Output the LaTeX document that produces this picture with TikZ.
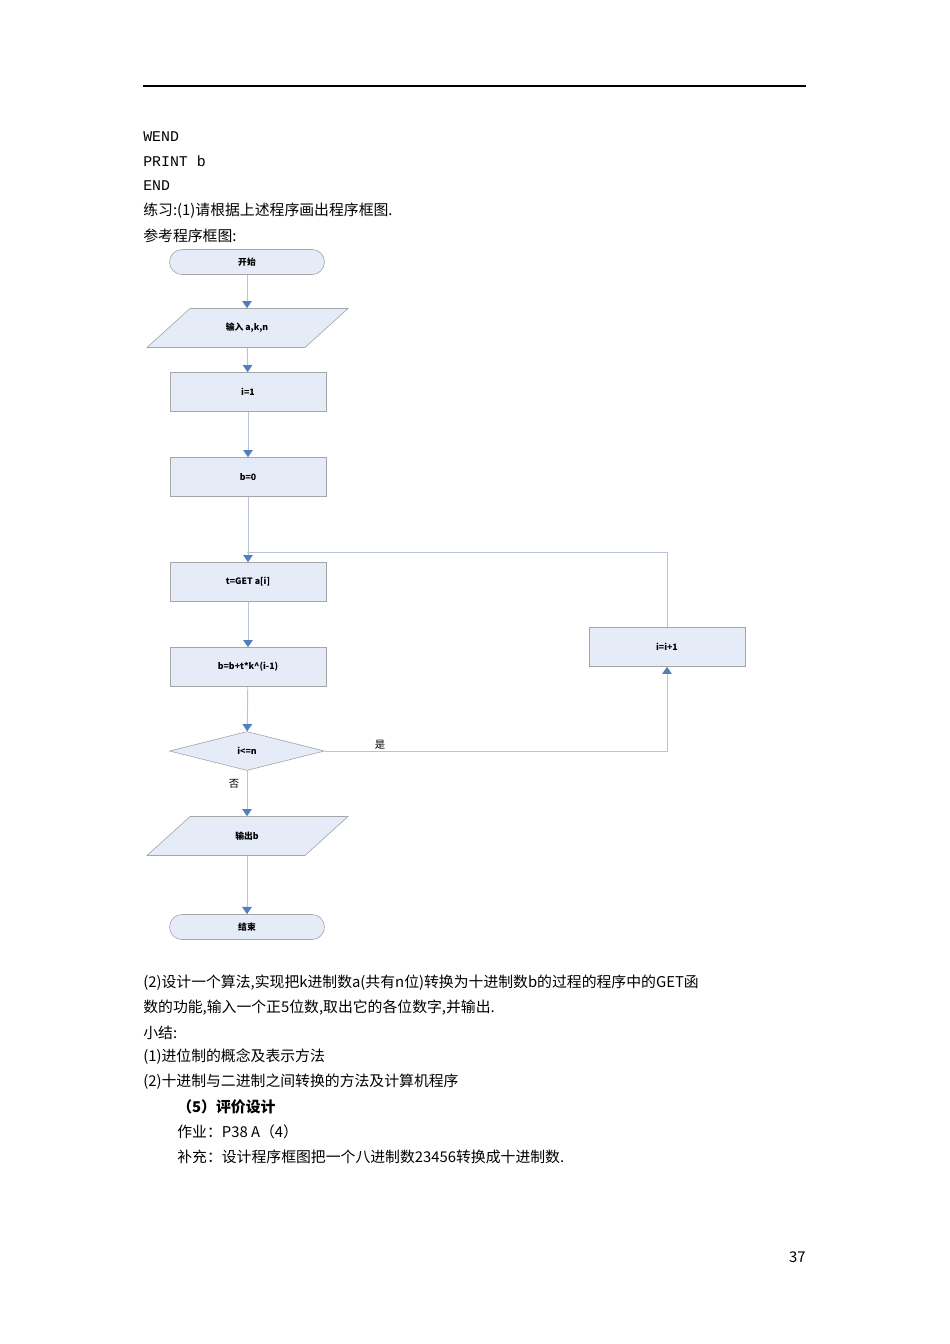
\documentclass[tikz,border=0pt]{standalone}
\usepackage{fontspec}
\setmainfont{Noto Sans CJK SC}
\newfontfamily\monof{Liberation Mono}
\XeTeXlinebreaklocale "zh"
\XeTeXlinebreakskip=0pt plus 1pt
\usetikzlibrary{shapes.geometric,arrows.meta}
\definecolor{boxfill}{HTML}{E6ECF7}
\definecolor{boxline}{HTML}{A6A6A6}
\definecolor{flowline}{HTML}{B8C4D6}
\definecolor{tipblue}{HTML}{4F81BD}
\tikzset{
 txt/.style={anchor=west,inner sep=0pt,font=\fontsize{9.3}{11}\selectfont},
 ftxt/.style={font=\fontsize{5.5}{6}\selectfont\bfseries},
 procbox/.style={draw=boxline,fill=boxfill,minimum width=97.7pt,minimum height=24.4pt,inner sep=0pt,ftxt},
 term/.style={draw=boxline,fill=boxfill,rounded corners=7.8pt,minimum width=97pt,minimum height=15.7pt,inner sep=0pt,ftxt},
 dec/.style={draw=boxline,fill=boxfill,diamond,aspect=4,minimum width=97pt,minimum height=24.4pt,inner sep=0pt,ftxt},
 fl/.style={draw=flowline,line width=0.6pt,-{Triangle[length=4.5pt,width=6pt,fill=tipblue,color=tipblue]}},
 fln/.style={draw=flowline,line width=0.6pt}
}
\newcommand{\iobox}[3]{%
  \fill[boxfill,draw=boxline] (#2)++(-100,19.5) -- ++(43,-39) -- ++(158,0) -- ++(-43,39) -- cycle;
  \node[minimum width=99pt,minimum height=24.4pt,inner sep=0pt,ftxt] (#1) at (#2) {#3};}
\begin{document}
\begin{tikzpicture}[x=0.6263pt,y=-0.6263pt]
\useasboundingbox (0,0) rectangle (950,1344);
\draw[line width=0.8pt] (143,86) -- (806,86);
\node[txt,font=\monof\fontsize{9.3}{11}\selectfont] (t1) at (143,137) {WEND};
\node[txt,font=\monof\fontsize{9.3}{11}\selectfont] (t2) at (143,161) {PRINT b};
\node[txt,font=\monof\fontsize{9.3}{11}\selectfont] (t3) at (143,186) {END};
\node[txt] (t4) at (143,211) {练习:(1)请根据上述程序画出程序框图.};
\node[txt] (t5) at (143,236) {参考程序框图:};
% flowchart
\node[term] (s) at (247,262) {开始};
\iobox{in}{247,328}{输入 a,k,n}
\node[procbox] (i1) at (248,392) {i=1};
\node[procbox] (b0) at (248,477) {b=0};
\node[procbox] (g) at (248,582) {t=GET a[i]};
\node[procbox] (bb) at (248,667) {b=b+t*k\^{}(i-1)};
\node[dec] (d) at (247,751) {i<=n};
\iobox{out}{247,836}{输出b}
\node[term] (e) at (247,927) {结束};
\node[procbox] (inc) at (667,647) {i=i+1};
\coordinate (lt) at (667,552);
\coordinate (lj) at (247,552);
\coordinate (dr) at (667,751);
\draw[fl] (s) -- (in);
\draw[fl] (in) -- (i1);
\draw[fl] (i1) -- (b0);
\draw[fl] (b0) -- (g);
\draw[fl] (g) -- (bb);
\draw[fl] (bb) -- (d);
\draw[fl] (d) -- (out);
\draw[fl] (out) -- (e);
\draw[fl] (d.east) -- (dr) -- (inc.south);
\draw[fln] (inc.north) -- (lt) -- (lj);
\node[font=\fontsize{6.5}{7}\selectfont] (yes) at (380,745) {是};
\node[font=\fontsize{6.5}{7}\selectfont] (no) at (234,784) {否};
% text below
\node[anchor=west,inner sep=0pt,text width=415.2pt,align=justify,font=\fontsize{9.3}{11}\selectfont] (p1) at (143,983) {\parfillskip=0pt (2)设计一个算法,实现把k进制数a(共有n位)转换为十进制数b的过程的程序中的GET函};
\node[txt] (p2) at (143,1008) {数的功能,输入一个正5位数,取出它的各位数字,并输出.};
\node[txt] (p3) at (143,1033) {小结:};
\node[txt] (p4) at (143,1057) {(1)进位制的概念及表示方法};
\node[txt] (p5) at (143,1082) {(2)十进制与二进制之间转换的方法及计算机程序};
\node[txt,font=\fontsize{9.3}{11}\selectfont\bfseries] (p6) at (177,1107) {（5）评价设计};
\node[txt] (p7) at (177,1132) {作业：P38 A（4）};
\node[txt] (p8) at (177,1157) {补充：设计程序框图把一个八进制数23456转换成十进制数.};
\node[txt,anchor=east] (pg) at (806,1257) {37};
\end{tikzpicture}
\end{document}
